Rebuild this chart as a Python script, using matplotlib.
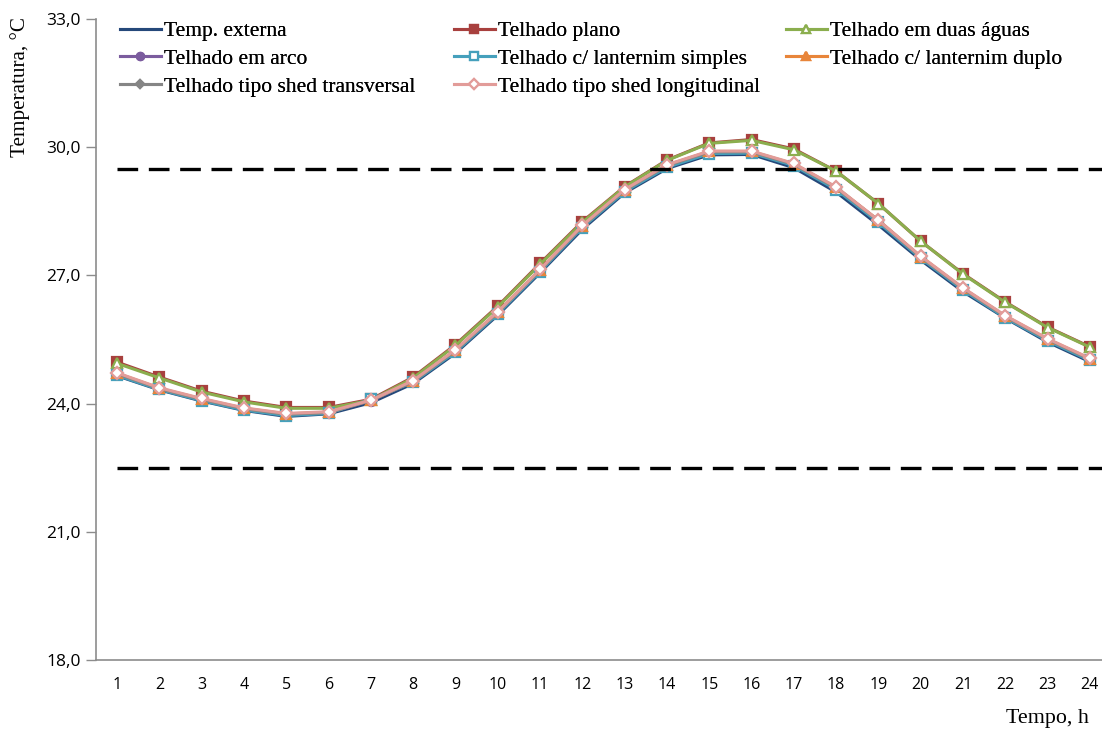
import matplotlib
matplotlib.use("Agg")
import matplotlib.pyplot as plt

hours = list(range(1, 25))

temp_externa = [24.65, 24.32, 24.06, 23.84, 23.70, 23.76, 24.02, 24.47, 25.18, 26.07, 27.06, 28.08,
                28.93, 29.50, 29.82, 29.83, 29.52, 28.95, 28.18, 27.36, 26.62, 26.00, 25.44, 24.98]
telhado_plano = [24.97, 24.62, 24.29, 24.06, 23.91, 23.91, 24.10, 24.62, 25.38, 26.28, 27.28, 28.26,
                 29.08, 29.70, 30.10, 30.18, 29.96, 29.44, 28.68, 27.80, 27.04, 26.38, 25.79, 25.33]
telhado_duas_aguas = [24.94, 24.60, 24.27, 24.04, 23.89, 23.89, 24.08, 24.60, 25.36, 26.26, 27.26, 28.24,
                      29.07, 29.69, 30.09, 30.16, 29.94, 29.44, 28.68, 27.80, 27.03, 26.37, 25.78, 25.32]
telhado_arco = [24.70, 24.35, 24.10, 23.88, 23.75, 23.79, 24.07, 24.52, 25.24, 26.13, 27.12, 28.15,
                28.99, 29.57, 29.89, 29.89, 29.60, 29.05, 28.28, 27.43, 26.69, 26.04, 25.50, 25.04]
lanternim_simples = [24.66, 24.33, 24.07, 23.85, 23.72, 23.77, 24.10, 24.50, 25.21, 26.10, 27.09, 28.12,
                     28.96, 29.53, 29.85, 29.86, 29.57, 29.01, 28.24, 27.40, 26.66, 26.01, 25.47, 25.01]
lanternim_duplo = [24.71, 24.36, 24.11, 23.89, 23.76, 23.80, 24.08, 24.53, 25.25, 26.14, 27.13, 28.16,
                   29.00, 29.58, 29.90, 29.90, 29.61, 29.06, 28.29, 27.44, 26.70, 26.05, 25.51, 25.05]
shed_transversal = [24.70, 24.35, 24.10, 23.88, 23.75, 23.79, 24.07, 24.52, 25.24, 26.13, 27.12, 28.15,
                    28.99, 29.57, 29.89, 29.89, 29.60, 29.05, 28.28, 27.43, 26.69, 26.04, 25.50, 25.04]
shed_longitudinal = [24.72, 24.37, 24.12, 23.90, 23.77, 23.81, 24.08, 24.54, 25.26, 26.15, 27.14, 28.17,
                     29.01, 29.59, 29.91, 29.91, 29.62, 29.07, 28.29, 27.45, 26.71, 26.06, 25.52, 25.06]

comfort_upper = 29.5
comfort_lower = 22.5

y_ticks = [18.0, 21.0, 24.0, 27.0, 30.0, 33.0]

W, H = 1102, 731
fig = plt.figure(figsize=(W / 100, H / 100), dpi=100)
ax = fig.add_axes([96 / W, 1 - 660 / H, 1015 / W, 641 / H])

serif = "Liberation Serif"
sans = "Open Sans"

series = [
    ("Temp. externa", temp_externa, "#25487A", None, "full", 6),
    ("Telhado plano", telhado_plano, "#A8403E", "s", "full", 6.5),
    ("Telhado em duas águas", telhado_duas_aguas, "#8BAE4E", "^", "white", 7),
    ("Telhado em arco", telhado_arco, "#7B5C9E", "o", "full", 6.5),
    ("Telhado c/ lanternim simples", lanternim_simples, "#45A0BC", "s", "white", 7),
    ("Telhado c/ lanternim duplo", lanternim_duplo, "#E8853A", "^", "full", 6.5),
    ("Telhado tipo shed transversal", shed_transversal, "#858585", "D", "full", 4.5),
    ("Telhado tipo shed longitudinal", shed_longitudinal, "#E29C99", "D", "white", 6),
]

handles = {}
for label, values, color, marker, fill, ms in series:
    mfc = "white" if fill == "white" else color
    (h,) = ax.plot(hours, values, color=color, lw=2.2, marker=marker, ms=ms,
                   mfc=mfc, mec=color, mew=1.6, label=label, solid_joinstyle="round")
    handles[label] = h

for level in (comfort_upper, comfort_lower):
    ax.plot([1, 24.5], [level, level], color="black", lw=2.4, dashes=(6.2, 3.2), zorder=5)

ax.set_xlim(0.5, 24.5)
ax.set_ylim(18, 33)
ax.set_xticks(hours)
ax.set_xticklabels([str(h) for h in hours], fontfamily=sans, fontsize=11.5)
ax.set_yticks(y_ticks)
ax.set_yticklabels([f"{t:.1f}".replace(".", ",") for t in y_ticks], fontfamily=sans, fontsize=12.5)
ax.tick_params(axis="x", length=0, pad=12)
ax.tick_params(axis="y", length=7, width=1, color="#8c8c8c", pad=4)
for side in ("top", "right"):
    ax.spines[side].set_visible(False)
for side in ("left", "bottom"):
    ax.spines[side].set_color("#8c8c8c")
    ax.spines[side].set_linewidth(1.2)

# legend: three equally wide columns, filled row by row
legend_columns = [
    ["Temp. externa", "Telhado em arco", "Telhado tipo shed transversal"],
    ["Telhado plano", "Telhado c/ lanternim simples", "Telhado tipo shed longitudinal"],
    ["Telhado em duas águas", "Telhado c/ lanternim duplo"],
]
column_left_px = [120, 454, 786]
for labels, x_px in zip(legend_columns, column_left_px):
    leg = fig.legend([handles[k] for k in labels], labels, loc="upper left",
                     bbox_to_anchor=(x_px / W, 1 - 21 / H), frameon=False,
                     prop={"family": serif, "size": 15.5}, handlelength=1.9,
                     handletextpad=0.15, labelspacing=0.36, markerscale=0.8,
                     borderpad=0, borderaxespad=0)
    fig.add_artist(leg)

fig.text(20 / W, 1 - 17 / H, "Temperatura, °C", rotation=90, ha="center", va="top",
         fontfamily=serif, fontsize=15.2)
fig.text(1089 / W, 1 - 719 / H, "Tempo, h", ha="right", va="center",
         fontfamily=serif, fontsize=15.8)

fig.savefig("out.png", dpi=100)
